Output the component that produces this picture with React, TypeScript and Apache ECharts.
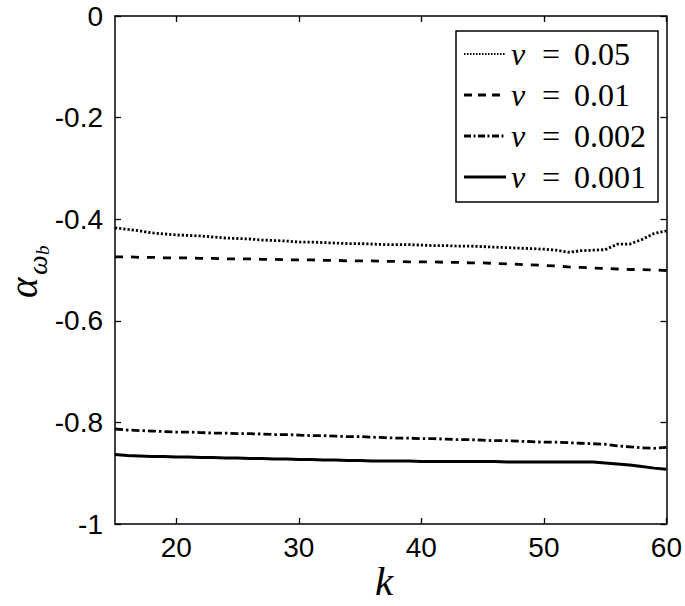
import React, { useEffect, useRef } from "react";
import * as echarts from "echarts";

const kValues = [15,16,17,18,19,20,21,22,23,24,25,26,27,28,29,30,31,32,33,34,35,36,37,38,39,40,41,42,43,44,45,46,47,48,49,50,51,52,53,54,55,56,57,58,59,60];

const nu005 = [-0.417,-0.420,-0.423,-0.427,-0.429,-0.431,-0.432,-0.433,-0.435,-0.437,-0.438,-0.439,-0.441,-0.442,-0.443,-0.445,-0.445,-0.446,-0.447,-0.448,-0.448,-0.449,-0.450,-0.450,-0.450,-0.451,-0.452,-0.452,-0.453,-0.453,-0.454,-0.455,-0.456,-0.457,-0.458,-0.459,-0.461,-0.465,-0.462,-0.461,-0.460,-0.449,-0.449,-0.440,-0.428,-0.423];

const nu001 = [-0.474,-0.474,-0.475,-0.475,-0.476,-0.476,-0.476,-0.477,-0.477,-0.478,-0.478,-0.478,-0.479,-0.479,-0.480,-0.480,-0.480,-0.481,-0.481,-0.482,-0.482,-0.482,-0.483,-0.483,-0.484,-0.484,-0.484,-0.485,-0.485,-0.486,-0.486,-0.487,-0.488,-0.489,-0.490,-0.491,-0.492,-0.494,-0.495,-0.496,-0.497,-0.498,-0.499,-0.499,-0.500,-0.501];

const nu0002 = [-0.813,-0.815,-0.816,-0.817,-0.818,-0.819,-0.819,-0.820,-0.821,-0.821,-0.822,-0.822,-0.823,-0.824,-0.824,-0.825,-0.826,-0.826,-0.827,-0.828,-0.828,-0.829,-0.830,-0.831,-0.831,-0.832,-0.832,-0.833,-0.834,-0.834,-0.835,-0.836,-0.836,-0.837,-0.838,-0.839,-0.839,-0.840,-0.841,-0.842,-0.843,-0.846,-0.848,-0.850,-0.851,-0.849];

const nu0001 = [-0.863,-0.865,-0.866,-0.867,-0.867,-0.868,-0.868,-0.869,-0.869,-0.870,-0.870,-0.871,-0.871,-0.872,-0.872,-0.873,-0.873,-0.874,-0.874,-0.875,-0.875,-0.876,-0.876,-0.876,-0.876,-0.877,-0.877,-0.877,-0.877,-0.877,-0.877,-0.877,-0.878,-0.878,-0.878,-0.878,-0.878,-0.878,-0.878,-0.878,-0.880,-0.882,-0.884,-0.887,-0.890,-0.892];

const seriesNames = ["ν = 0.05", "ν = 0.01", "ν = 0.002", "ν = 0.001"];
const seriesLabels = ["0.05", "0.01", "0.002", "0.001"];
const xTicks = [20, 30, 40, 50, 60];

const SANS = "'Liberation Sans', Arial, sans-serif";
const SERIF = "'Liberation Serif', 'Times New Roman', serif";

export default function App() {
  const ref = useRef<HTMLDivElement>(null);
  useEffect(() => {
    if (!ref.current) return;
    const chart = echarts.init(ref.current, undefined, { renderer: "svg" });
    const dashes: any[] = [[2.2, 2], [8, 8], [8, 3, 2.5, 3], "solid"];
    const widths = [2.8, 2.8, 2.8, 3];
    const dataSets = [nu005, nu001, nu0002, nu0001];
    const axisLine = { show: true, onZero: false, lineStyle: { color: "#000", width: 1.5 } };
    const tick = (custom: boolean) => ({
      show: true,
      inside: true,
      length: 6,
      ...(custom ? { customValues: xTicks } : {}),
      lineStyle: { color: "#000", width: 1.3 },
    });
    // legend drawn as graphic
    const boxX = 456, boxY = 31, boxW = 202, boxH = 171;
    const rowY = [54, 95, 136, 177];
    const legendEls: any[] = [
      { type: "rect", shape: { x: boxX, y: boxY, width: boxW, height: boxH }, style: { fill: "#fff", stroke: "#000", lineWidth: 1.5 }, z: 100 },
    ];
    seriesNames.forEach((name, i) => {
      const y = rowY[i];
      legendEls.push({
        type: "line",
        shape: { x1: 464, y1: y, x2: 506, y2: y },
        style: {
          stroke: "#000",
          lineWidth: i === 0 ? 2 : 2.8,
          lineDash: i === 0 ? [1.5, 1.5] : i === 1 ? [8, 6] : i === 2 ? [7, 2.5, 2, 2.5] : null,
        },
        z: 101,
      });
      legendEls.push({ type: "text", x: 511, y, style: { text: "ν", font: "italic 32px " + SERIF, fill: "#000", textVerticalAlign: "middle" }, z: 101 });
      legendEls.push({ type: "text", x: 542, y, style: { text: "=", font: "32px " + SERIF, fill: "#000", textVerticalAlign: "middle" }, z: 101 });
      legendEls.push({ type: "text", x: 574, y, style: { text: seriesLabels[i], font: "32px " + SERIF, fill: "#000", textVerticalAlign: "middle" }, z: 101 });
    });
    const option: any = {
      animation: false,
      backgroundColor: "#fff",
      grid: { left: 115, right: 15, top: 16, bottom: 82 },
      xAxis: [
        {
          type: "value",
          position: "bottom",
          min: 15,
          max: 60,
          axisLine,
          splitLine: { show: false },
          axisTick: tick(true),
          axisLabel: { customValues: xTicks, color: "#000", fontSize: 28, fontFamily: SANS, margin: 9 },
        },
        {
          type: "value",
          position: "top",
          min: 15,
          max: 60,
          axisLine,
          splitLine: { show: false },
          axisTick: tick(true),
          axisLabel: { show: false, customValues: xTicks },
        },
      ],
      yAxis: [
        {
          type: "value",
          position: "left",
          min: -1,
          max: 0,
          interval: 0.2,
          axisLine,
          splitLine: { show: false },
          axisTick: tick(false),
          axisLabel: { color: "#000", fontSize: 28, fontFamily: SANS, margin: 12 },
        },
        {
          type: "value",
          position: "right",
          min: -1,
          max: 0,
          interval: 0.2,
          axisLine,
          splitLine: { show: false },
          axisTick: tick(false),
          axisLabel: { show: false },
        },
      ],
      series: seriesNames.map((name, i) => ({
        name,
        type: "line",
        showSymbol: false,
        symbol: "none",
        data: kValues.map((k, j) => [k, dataSets[i][j]]),
        lineStyle: { color: "#000", width: widths[i], type: dashes[i] },
        itemStyle: { color: "#000" },
      })),
      graphic: [
        {
          type: "text",
          left: 375,
          top: 560,
          style: { text: "k", font: "italic 41px " + SERIF, fill: "#000" },
        },
        {
          type: "group",
          x: 43,
          y: 298,
          rotation: Math.PI / 2,
          children: [
            { type: "text", x: 0, y: 0, style: { text: "α", font: "italic 39px " + SERIF, fill: "#000", textVerticalAlign: "bottom" } },
            { type: "text", x: 23, y: 8, style: { text: "ω", font: "italic 28px " + SERIF, fill: "#000", textVerticalAlign: "bottom" } },
            { type: "text", x: 43, y: 9, style: { text: "b", font: "italic 19px " + SERIF, fill: "#000", textVerticalAlign: "bottom" } },
          ],
        },
        ...legendEls,
      ],
    };
    chart.setOption(option);
    return () => chart.dispose();
  }, []);
  return <div ref={ref} style={{ position: "fixed", left: 0, top: 0, width: 685, height: 606 }} />;
}
